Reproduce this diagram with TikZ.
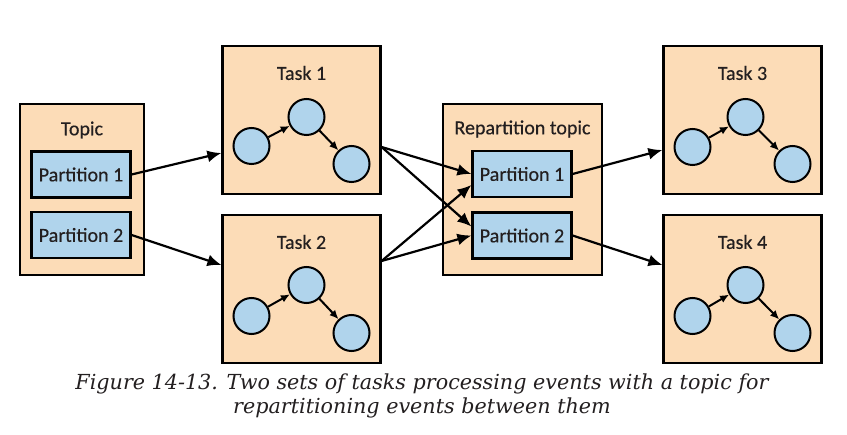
\documentclass[tikz,border=0pt]{standalone}
\usepackage{fontspec}
\setmainfont{Carlito}
\newfontfamily\lblfont{Carlito}[FakeBold=0.4]
\newfontfamily\capfont{DejaVu Serif}
\usetikzlibrary{arrows.meta}
\definecolor{peach}{RGB}{252,220,183}
\definecolor{partblue}{RGB}{176,212,236}
\definecolor{ink}{RGB}{35,31,32}
\begin{document}
\begin{tikzpicture}
[   x=1pt, y=-1pt,
    box/.style={draw=black, line width=2.2pt, fill=peach, minimum width=158pt, minimum height=148pt, inner sep=0pt},
    part/.style={draw=black, line width=2.2pt, fill=partblue, minimum width=99pt, minimum height=46pt, inner sep=0pt, text=ink, font=\lblfont\fontsize{20}{22}\selectfont},
    lbl/.style={text=ink, font=\lblfont\fontsize{20}{22}\selectfont},
    cnode/.style={draw=black, line width=2pt, fill=partblue, circle, minimum size=36pt, inner sep=0pt},
    flow/.style={-{Latex[length=14pt,width=12pt]}, line width=2.2pt},
    small/.style={-{Latex[length=9pt,width=8pt]}, line width=2pt},
]
\useasboundingbox (0,0) rectangle (847,435);

\node[box, minimum width=124pt, minimum height=171pt] (topic) at (82,189.5) {};
\node[lbl] (topiclbl) at (82,130) {Topic};
\node[part] (tp1) at (81,174.5) {Partition 1};
\node[part] (tp2) at (81,235) {Partition 2};

\node[box] (task1) at (301.5,120) {};
\node[lbl] (task1lbl) at (301.5,73) {Task 1};
\node[cnode] (a1) at (251.5,146) {};
\node[cnode] (b1) at (306.5,117) {};
\node[cnode] (c1) at (351.5,164) {};

\node[box] (task2) at (301.5,289) {};
\node[lbl] (task2lbl) at (301.5,242) {Task 2};
\node[cnode] (a2) at (251.5,316) {};
\node[cnode] (b2) at (306.5,285) {};
\node[cnode] (c2) at (351.5,333) {};

\node[box, minimum width=159pt, minimum height=171pt] (rep) at (522.5,189.5) {};
\node[lbl] (replbl) at (522.5,129) {Repartition topic};
\node[part] (rp1) at (522,174) {Partition 1};
\node[part] (rp2) at (522,235.5) {Partition 2};

\node[box] (task3) at (742.5,120) {};
\node[lbl] (task3lbl) at (742.5,73) {Task 3};
\node[cnode] (a3) at (692.5,147) {};
\node[cnode] (b3) at (745.5,117) {};
\node[cnode] (c3) at (792.5,164) {};

\node[box] (task4) at (742.5,289) {};
\node[lbl] (task4lbl) at (742.5,242) {Task 4};
\node[cnode] (a4) at (692.5,316) {};
\node[cnode] (b4) at (745.5,285) {};
\node[cnode] (c4) at (792.5,333) {};

% inside the tasks
\draw[small] (a1) -- (b1);
\draw[small] (b1) -- (c1);
\draw[small] (a2) -- (b2);
\draw[small] (b2) -- (c2);
\draw[small] (a3) -- (b3);
\draw[small] (b3) -- (c3);
\draw[small] (a4) -- (b4);
\draw[small] (b4) -- (c4);

% between the boxes
\draw[flow] (tp1.east) -- ([yshift=-33pt]task1.west);
\draw[flow] (tp2.east) -- ([yshift=24pt]task2.west);

\draw[flow] ([yshift=-27pt]task1.east) -- (rp1.west);
\draw[flow] ([yshift=-27pt]task1.east) -- ([yshift=9pt]rp2.west);
\draw[flow] ([yshift=28pt]task2.east) -- ([yshift=-11pt]rp1.west);
\draw[flow] ([yshift=28pt]task2.east) -- (rp2.west);

\draw[flow] (rp1.east) -- ([yshift=-30pt]task3.west);
\draw[flow] (rp2.east) -- ([yshift=24pt]task4.west);

\node[text=ink, font=\capfont\itshape\fontsize{20.7}{24}\selectfont, align=center] (caption) at (422,396)
  {Figure 14-13. Two sets of tasks processing events with a topic for\\ repartitioning events between them};

\end{tikzpicture}
\end{document}
